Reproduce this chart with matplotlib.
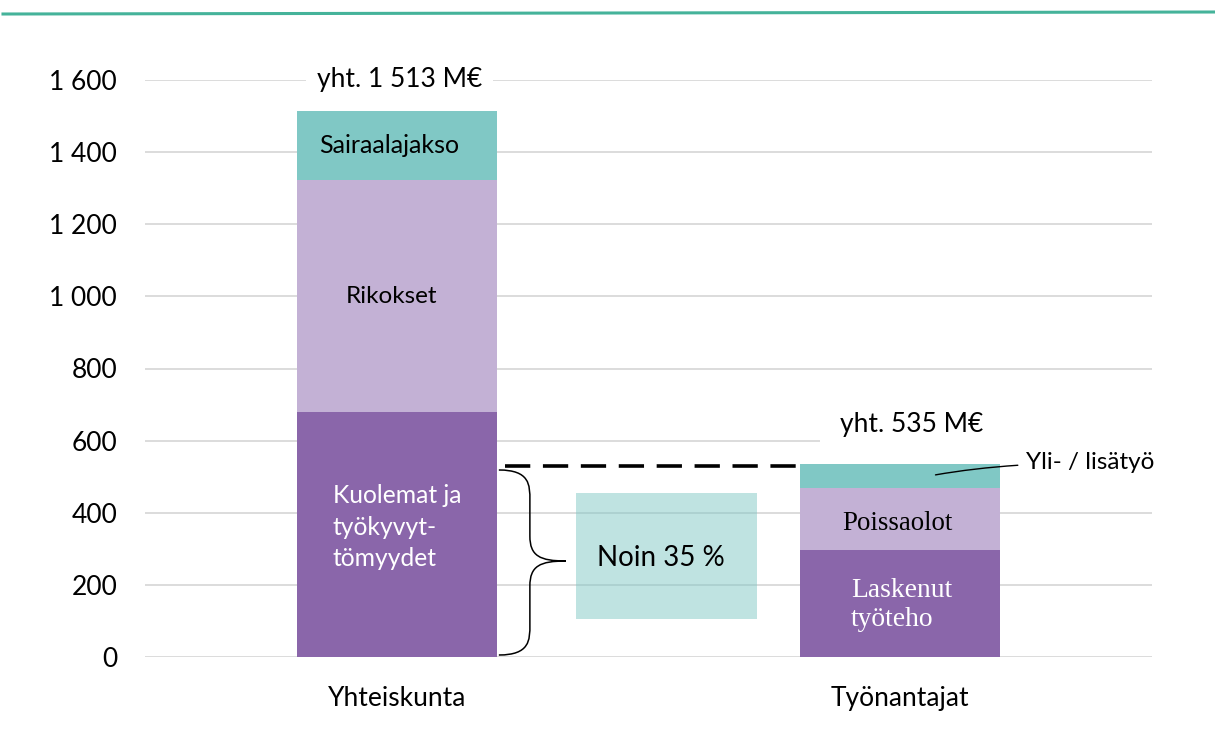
import matplotlib
matplotlib.use("Agg")
import matplotlib.pyplot as plt
from matplotlib.patches import Rectangle, PathPatch
from matplotlib.path import Path
from matplotlib.lines import Line2D

categories = ["Yhteiskunta", "Työnantajat"]
# Yhteiskunta segments
yht_labels = ["Kuolemat ja\ntyökyvyt-\ntömyydet", "Rikokset", "Sairaalajakso"]
yht_values = [679, 644, 190]
# Työnantajat segments
tyo_labels = ["Laskenut\ntyöteho", "Poissaolot", "Yli- / lisätyö"]
tyo_values = [297, 172, 66]
totals_text = ["yht. 1 513 M€", "yht. 535 M€"]
yticks = [0, 200, 400, 600, 800, 1000, 1200, 1400, 1600]
ytick_labels = ["0", "200", "400", "600", "800", "1 000", "1 200", "1 400", "1 600"]
dashed_level = 530
box_range = (105, 455)
box_text = "Noin 35 %"

colors = ["#8A66AA", "#C3B1D5", "#80C8C5"]
FONT = "Lato"

fig = plt.figure(figsize=(12.15, 7.29), dpi=100)
ax = fig.add_axes([145/1215, (729-657)/729, (1152-145)/1215, (657-80)/729])
ax.set_xlim(-0.5, 1.5)
ax.set_ylim(0, 1600)
for s in ax.spines.values():
    s.set_visible(False)
ax.set_yticks(yticks)
ax.set_yticklabels(ytick_labels, fontfamily=FONT, fontsize=19)
ax.tick_params(axis="y", length=0, pad=20)
ax.tick_params(axis="x", length=0, pad=21)
ax.set_xticks([0, 1])
ax.set_xticklabels(categories, fontfamily=FONT, fontsize=19)
ax.yaxis.grid(True, color="#D9D9D9", linewidth=1.3)
ax.set_axisbelow(True)

width = 0.398
bottom = 0
for v, c in zip(yht_values, colors):
    ax.bar(0, v, width, bottom=bottom, color=c, zorder=3)
    bottom += v
bottom = 0
for v, c in zip(tyo_values, colors):
    ax.bar(1, v, width, bottom=bottom, color=c, zorder=3)
    bottom += v

# labels inside bars
ax.text(-0.014, yht_values[0] + yht_values[1] + yht_values[2] / 2, yht_labels[2],
        ha="center", va="center", fontfamily=FONT, fontsize=18, color="black", zorder=5)
ax.text(-0.01, yht_values[0] + yht_values[1] / 2, yht_labels[1],
        ha="center", va="center", fontfamily=FONT, fontsize=17.5, color="black", zorder=5)
ax.text(-0.127, 360, yht_labels[0], ha="left", va="center", fontfamily=FONT,
        fontsize=17.7, color="white", linespacing=1.45, zorder=5)
ax.text(0.995, 369, tyo_labels[1], ha="center", va="center",
        fontfamily="Liberation Serif", fontsize=19.4, color="black", zorder=5)
ax.text(0.902, 144, tyo_labels[0], ha="left", va="center",
        fontfamily="Liberation Serif", fontsize=19.8, color="white", linespacing=1.25, zorder=5)

# totals
ax.text(0.006, 1600, totals_text[0], ha="center", va="center", fontfamily=FONT, fontsize=19,
        zorder=6, bbox=dict(facecolor="white", edgecolor="none", pad=8), clip_on=False)
ax.add_patch(Rectangle((0.84, 565), 0.67, 140, facecolor="white", edgecolor="none",
                       zorder=2, clip_on=False))
ax.text(1.022, 646, totals_text[1], ha="center", va="center", fontfamily=FONT, fontsize=19,
        zorder=6)

# Yli-/lisätyö label with connector
ax.annotate(tyo_labels[2], xy=(1.07, 505), xytext=(1.25, 538), ha="left", va="center",
            fontfamily=FONT, fontsize=17.5, zorder=6,
            arrowprops=dict(arrowstyle="-", color="black", lw=1,
                            connectionstyle="angle3,angleA=0,angleB=10",
                            shrinkA=4, shrinkB=0))

# dashed line
ax.plot([0.215, 0.8], [dashed_level, dashed_level], color="black", lw=2.6,
        dashes=(7, 3.5), zorder=4)

# box
ax.add_patch(Rectangle((0.356, box_range[0]), 0.36, box_range[1] - box_range[0],
                       facecolor="#80C8C5", alpha=0.5, edgecolor="none", zorder=4))
ax.text(0.525, (box_range[0] + box_range[1]) / 2 - 5, box_text, ha="center", va="center",
        fontfamily=FONT, fontsize=20, zorder=5)

# brace
def px(p):
    return (p - 397) / 503
def py(p):
    return (657 - p) / (577 / 1600)
x0, xm, xt = 499, 530, 566
ytop, ymid, ybot = 470, 561, 655
verts = [
    (px(x0), py(ytop)),
    (px(xm), py(ytop)), (px(xm), py(ytop + 15)), (px(xm), py(ytop + 30)),
    (px(xm), py(ymid - 25)),
    (px(xm), py(ymid - 5)), (px(xm + 10), py(ymid)), (px(xt), py(ymid)),
    (px(xm + 10), py(ymid)), (px(xm), py(ymid + 5)), (px(xm), py(ymid + 25)),
    (px(xm), py(ybot - 30)),
    (px(xm), py(ybot - 15)), (px(xm), py(ybot)), (px(x0), py(ybot)),
]
codes = [Path.MOVETO, Path.CURVE4, Path.CURVE4, Path.CURVE4, Path.LINETO,
         Path.CURVE4, Path.CURVE4, Path.CURVE4, Path.CURVE4, Path.CURVE4, Path.CURVE4,
         Path.LINETO, Path.CURVE4, Path.CURVE4, Path.CURVE4]
ax.add_patch(PathPatch(Path(verts, codes), facecolor="none", edgecolor="black", lw=1.1,
                       zorder=5, clip_on=False))

# top green rule
fig.add_artist(Line2D([3/1215, 1.0], [1 - 14/729, 1 - 12/729], color="#45B39A", lw=2.2,
                      transform=fig.transFigure))

fig.savefig("out.png", dpi=100)
